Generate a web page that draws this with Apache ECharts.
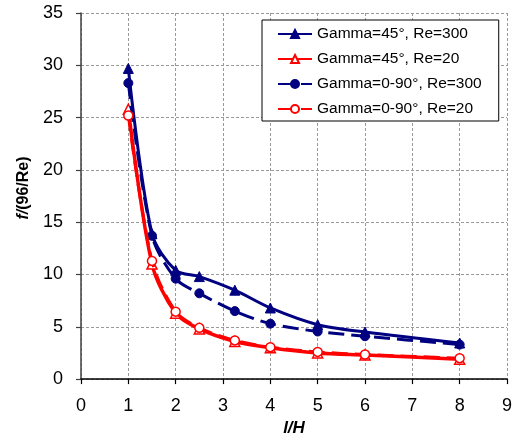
<!DOCTYPE html>
<html>
<head>
<meta charset="utf-8">
<script src="https://cdn.jsdelivr.net/npm/echarts@6/dist/echarts.min.js"></script>
<style>
  html, body { margin: 0; padding: 0; background: #fff; }
  #chart { width: 515px; height: 442px; }
</style>
</head>
<body>
<div id="chart"></div>
<script>
// Channel length ratio l/H
const lOverH = [1, 1.5, 2, 2.5, 3.25, 4, 5, 6, 8];

// Normalised friction factor f/(96/Re) for each configuration
const gamma45Re300 = [29.7, 13.9, 10.4, 9.8, 8.5, 6.8, 5.2, 4.5, 3.45];
const gamma45Re20 = [25.8, 11.0, 6.3, 4.8, 3.6, 3.0, 2.5, 2.3, 1.9];
const gamma090Re300 = [28.3, 13.7, 9.6, 8.2, 6.5, 5.3, 4.55, 4.1, 3.3];
const gamma090Re20 = [25.2, 11.3, 6.45, 4.9, 3.7, 3.05, 2.6, 2.35, 2.0];

const seriesNames = [
  'Gamma=45°, Re=300',
  'Gamma=45°, Re=20',
  'Gamma=0-90°, Re=300',
  'Gamma=0-90°, Re=20'
];

const xTicks = [0, 1, 2, 3, 4, 5, 6, 7, 8, 9];
const yTicks = [0, 5, 10, 15, 20, 25, 30, 35];

const FONT = "'Liberation Sans', Arial, sans-serif";
const NAVY = '#000080';
const RED = '#ff0000';

function pairs(ys) {
  return lOverH.map((x, i) => [x, ys[i]]);
}

const chart = echarts.init(document.getElementById('chart'), null, { renderer: 'canvas' });

const splitLine = {
  show: true,
  lineStyle: { color: '#9a9a9a', width: 1, type: [3, 2] }
};

chart.setOption({
  animation: false,
  backgroundColor: '#ffffff',
  textStyle: { fontFamily: FONT },
  grid: { left: 81, top: 13, right: 2.5, bottom: 62, containLabel: false },
  legend: {
    orient: 'vertical',
    left: 262,
    top: 20,
    padding: [6, 17, 4, 15],
    itemGap: 9,
    itemWidth: 34,
    itemHeight: 10,
    backgroundColor: '#ffffff',
    borderColor: '#000000',
    borderWidth: 1,
    textStyle: { fontFamily: FONT, fontSize: 15.5, lineHeight: 14, color: '#000' },
    data: seriesNames
  },
  xAxis: {
    type: 'value',
    min: xTicks[0],
    max: xTicks[xTicks.length - 1],
    interval: 1,
    name: 'l/H',
    nameLocation: 'middle',
    nameGap: 40,
    nameTextStyle: { fontFamily: FONT, fontSize: 17, fontWeight: 'bold', fontStyle: 'italic', color: '#000' },
    axisLine: { show: true, onZero: false, lineStyle: { color: '#000', width: 1.5 } },
    axisTick: { show: true, inside: false, length: 5, lineStyle: { color: '#000', width: 1.2 } },
    axisLabel: { fontFamily: FONT, fontSize: 18, color: '#000', margin: 18 },
    splitLine: splitLine
  },
  yAxis: {
    type: 'value',
    min: yTicks[0],
    max: yTicks[yTicks.length - 1],
    interval: 5,
    name: '{i|f/}{b|(96/Re)}',
    nameLocation: 'middle',
    nameGap: 46,
    nameRotate: 90,
    nameTextStyle: {
      fontFamily: FONT, fontSize: 16, fontWeight: 'bold', color: '#000',
      padding: [0, 0, 0, 16],
      rich: {
        i: { fontFamily: FONT, fontSize: 16, fontWeight: 'bold', fontStyle: 'italic', color: '#000' },
        b: { fontFamily: FONT, fontSize: 16, fontWeight: 'bold', color: '#000' }
      }
    },
    axisLine: { show: true, onZero: false, lineStyle: { color: '#404040', width: 1.5 } },
    axisTick: { show: true, inside: false, length: 5, lineStyle: { color: '#404040', width: 1.2 } },
    axisLabel: { fontFamily: FONT, fontSize: 18, color: '#000', margin: 18 },
    splitLine: splitLine
  },
  series: [
    {
      name: seriesNames[0],
      type: 'line',
      data: pairs(gamma45Re300),
      smooth: 0.3,
      symbol: 'triangle',
      symbolSize: 10,
      lineStyle: { color: NAVY, width: 3 },
      itemStyle: { color: NAVY, borderColor: NAVY, borderWidth: 1 },
      z: 2
    },
    {
      name: seriesNames[1],
      type: 'line',
      data: pairs(gamma45Re20),
      smooth: 0.3,
      symbol: 'triangle',
      symbolSize: 10,
      lineStyle: { color: RED, width: 3.5 },
      itemStyle: { color: '#ffffff', borderColor: RED, borderWidth: 1.5 },
      z: 3
    },
    {
      name: seriesNames[2],
      type: 'line',
      data: pairs(gamma090Re300),
      smooth: 0.3,
      symbol: 'circle',
      symbolSize: 9,
      lineStyle: { color: NAVY, width: 3, type: [16, 7] },
      itemStyle: { color: NAVY, borderColor: NAVY, borderWidth: 1 },
      z: 4
    },
    {
      name: seriesNames[3],
      type: 'line',
      data: pairs(gamma090Re20),
      smooth: 0.3,
      symbol: 'circle',
      symbolSize: 9,
      lineStyle: { color: RED, width: 3, type: [16, 7] },
      itemStyle: { color: '#ffffff', borderColor: RED, borderWidth: 1.5 },
      z: 5
    }
  ]
});
</script>
</body>
</html>
